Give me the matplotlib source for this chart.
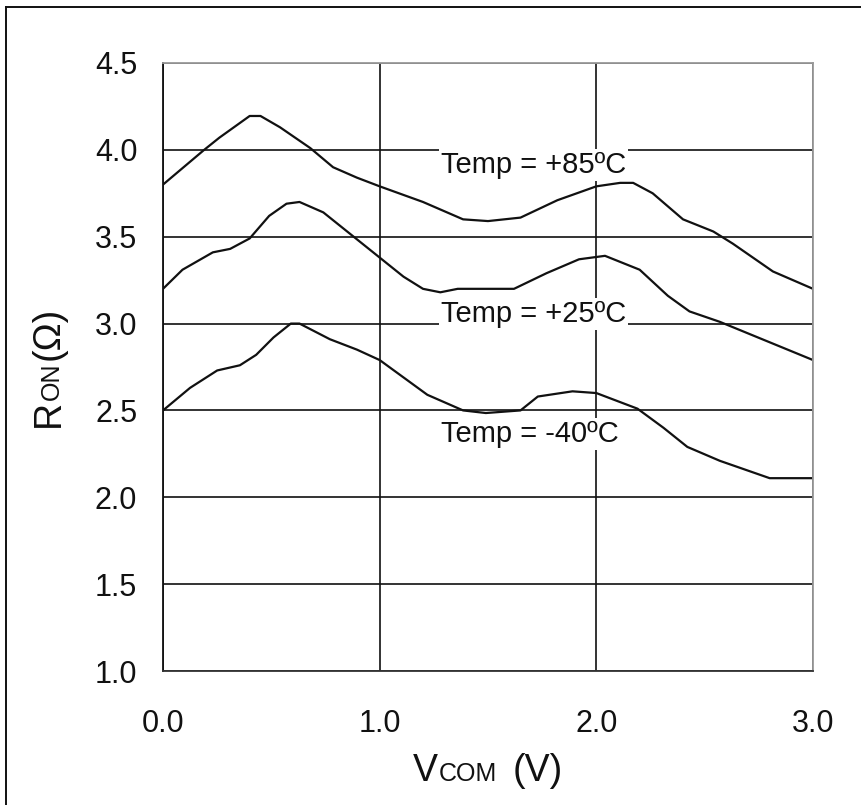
import matplotlib
matplotlib.use("Agg")
import matplotlib.pyplot as plt
from matplotlib.lines import Line2D

plt.rcParams["font.family"] = ["Liberation Sans", "DejaVu Sans"]

# curves (V_COM in volts, R_ON in ohms)
V_85 = [0.0, 0.19, 0.26, 0.40, 0.45, 0.54, 0.68, 0.785, 0.895, 1.0, 1.2, 1.385,
        1.5, 1.65, 1.82, 2.0, 2.11, 2.17, 2.26, 2.40, 2.54, 2.63, 2.815, 3.0]
R_85 = [3.80, 4.00, 4.07, 4.195, 4.195, 4.13, 4.01, 3.90, 3.84, 3.79, 3.70, 3.60,
        3.59, 3.61, 3.71, 3.79, 3.81, 3.81, 3.75, 3.60, 3.53, 3.46, 3.30, 3.20]

V_25 = [0.0, 0.09, 0.23, 0.31, 0.40, 0.49, 0.57, 0.63, 0.74, 0.88, 1.0, 1.11,
        1.2, 1.28, 1.36, 1.62, 1.77, 1.92, 2.04, 2.20, 2.33, 2.43, 2.57, 3.0]
R_25 = [3.20, 3.31, 3.41, 3.43, 3.49, 3.62, 3.69, 3.70, 3.64, 3.50, 3.38, 3.27,
        3.20, 3.18, 3.20, 3.20, 3.29, 3.37, 3.39, 3.31, 3.16, 3.07, 3.01, 2.79]

V_40 = [0.0, 0.125, 0.25, 0.355, 0.43, 0.51, 0.59, 0.63, 0.77, 0.895, 1.0, 1.11,
        1.22, 1.385, 1.49, 1.65, 1.73, 1.89, 2.0, 2.19, 2.31, 2.42, 2.57, 2.80, 3.0]
R_40 = [2.50, 2.63, 2.73, 2.76, 2.82, 2.92, 3.00, 3.00, 2.91, 2.85, 2.79, 2.69,
        2.59, 2.50, 2.485, 2.50, 2.58, 2.61, 2.60, 2.51, 2.40, 2.29, 2.21, 2.11, 2.11]

LABELS = ["Temp = +85ºC", "Temp = +25ºC", "Temp = -40ºC"]
LABEL_Y = [3.865, 3.007, 2.32]   # text baselines, data units
LABEL_X = 1.283

X_TICKS = [0.0, 1.0, 2.0, 3.0]
Y_TICKS = [1.0, 1.5, 2.0, 2.5, 3.0, 3.5, 4.0, 4.5]

INK = "#111111"
FRAME_GREY = "#9a9a9a"

W, H = 861, 805
fig = plt.figure(figsize=(W / 100, H / 100), dpi=100)
fig.patch.set_facecolor("white")
ax = fig.add_axes([163 / W, (H - 671) / H, 650 / W, 608 / H])

for xs, ys in ((V_85, R_85), (V_25, R_25), (V_40, R_40)):
    ax.plot(xs, ys, color=INK, linewidth=1.6, solid_joinstyle="round")

for text, y in zip(LABELS, LABEL_Y):
    ax.text(LABEL_X, y, text, fontsize=21, color=INK, ha="left", va="baseline",
            bbox=dict(facecolor="white", edgecolor="none", pad=1.5), zorder=4)

ax.set_xlim(0, 3)
ax.set_ylim(1, 4.5)
ax.set_xticks(X_TICKS, [f"{v:.1f}" for v in X_TICKS])
ax.set_yticks(Y_TICKS, [f"{v:.1f}" for v in Y_TICKS])
ax.tick_params(axis="x", length=0, pad=27, labelsize=22, labelcolor=INK)
ax.tick_params(axis="y", length=0, pad=18.5, labelsize=22, labelcolor=INK)
ax.grid(True, color=INK, linewidth=1.2)
ax.set_axisbelow(True)
ax.spines["left"].set_color(INK)
ax.spines["bottom"].set_color("#333333")
for side in ("top", "right"):
    ax.spines[side].set_color(FRAME_GREY)
for sp in ax.spines.values():
    sp.set_linewidth(1.3)


def rich_label(pieces, centre, baseline, vertical=False):
    """Lay out text runs of mixed size on one baseline (pixel coords)."""
    renderer = fig.canvas.get_renderer()
    texts, widths = [], []
    for s, size, gap in pieces:
        t = fig.text(0, 0, s, fontsize=size, color=INK)
        widths.append(t.get_window_extent(renderer).width + gap)
        texts.append(t)
    pos = centre - sum(widths) / 2
    for t, w in zip(texts, widths):
        if vertical:
            t.set_position((baseline / W, pos / H))
            t.set_rotation(90)
        else:
            t.set_position((pos / W, baseline / H))
        t.set_rotation_mode("anchor")
        t.set_ha("left")
        t.set_va("baseline")
        pos += w


rich_label([("V", 27, 1), ("COM", 18, 15), ("(V)", 27, 0)], 488, H - 781)
rich_label([("R", 27, 0), ("ON", 18, 3), ("(Ω)", 27, 0)], H - 367, 59, vertical=True)

# outer frame of the datasheet figure (left and top edges only)
fig.add_artist(Line2D([6 / W, 6 / W], [0, 1 - 7 / H], color=INK, linewidth=1.4,
                      transform=fig.transFigure))
fig.add_artist(Line2D([6 / W, 1], [1 - 7 / H, 1 - 7 / H], color=INK, linewidth=1.4,
                      transform=fig.transFigure))

fig.savefig("out.png", dpi=100, facecolor="white")
